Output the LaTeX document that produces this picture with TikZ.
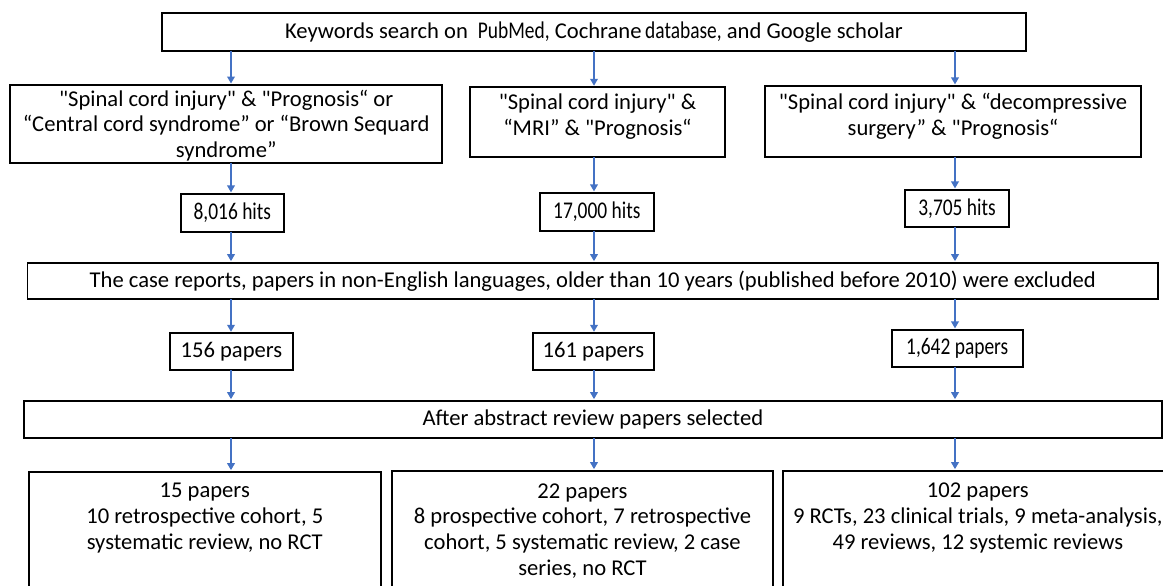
\documentclass[tikz,border=0pt]{standalone}
\usepackage{fontspec}
\usepackage{graphicx}
\setmainfont{Carlito}
\newcommand\cond[1]{\scalebox{0.81}[1]{\fontsize{24}{26}\selectfont #1}}
\newcommand\qq{\textquotedbl}
\usetikzlibrary{arrows.meta}
\definecolor{arrowblue}{RGB}{68,114,196}
\tikzset{
  box/.style={draw=black, line width=1.8pt, inner sep=0pt, outer sep=0pt, align=center},
  txt/.style={inner sep=0pt, align=center},
  arr/.style={draw=arrowblue, line width=1.9pt, -{Triangle[length=7pt,width=7.5pt]}, shorten >=1.5pt},
  every node/.style={font=\fontsize{22.6}{25.8}\selectfont}
}
\begin{document}
\begin{tikzpicture}[x=1pt,y=-1pt]
\path[use as bounding box, fill=white] (0,0) rectangle (1163,586);
\clip (0,0) rectangle (1163,586);
% column coordinates
\coordinate (cL) at (231,0);
\coordinate (cM) at (594,0);
\coordinate (cR) at (955,0);
% top
\node[box, minimum width=864.5pt, minimum height=37.5pt] (top) at (594,32) {Keywords search on\hspace{10pt}\cond{PubMed,} Cochrane\hspace{-1.5pt} \cond{database,} and Google scholar};
% row 2
\node[box, minimum width=431.7pt, minimum height=77.7pt] (L2) at (226.2,123.9) {};
\node[box, minimum width=255pt, minimum height=70pt] (M2) at (597.5,122.3) {};
\node[box, minimum width=376pt, minimum height=70.7pt] (R2) at (953,121.3) {};
\node[txt] (L2t) at (226.2,125.5) {\qq Spinal cord injury\qq{} \& \qq Prognosis“ or\\“Central cord syndrome” or “Brown Sequard\\syndrome”};
\node[txt] (M2t) at (597.5,116.5) {\qq Spinal cord injury\qq{} \&\\“MRI” \& \qq Prognosis“};
\node[txt] (R2t) at (953,116.5) {\qq Spinal cord injury\qq{} \& “decompressive\\surgery” \& \qq Prognosis“};
% hits
\node[box, minimum width=103.4pt, minimum height=37.7pt] (H1) at (232.3,212.8) {\cond{8,016 hits}};
\node[box, minimum width=114.4pt, minimum height=37.7pt] (H2) at (596.8,211.8) {\cond{17,000 hits}};
\node[box, minimum width=104pt, minimum height=36.7pt] (H3) at (957,208.3) {\cond{3,705 hits}};
% exclusion
\node[box, minimum width=1130.5pt, minimum height=36.6pt] (E) at (592.75,281) {The case reports, papers in non-English languages, older than 10 years (published before 2010) were excluded};
% papers
\node[box, minimum width=122.8pt, minimum height=36.7pt] (P1) at (231.4,351.7) {156 papers};
\node[box, minimum width=121.6pt, minimum height=36.7pt] (P2) at (593.5,351.7) {161 papers};
\node[box, minimum width=131pt, minimum height=36.7pt] (P3) at (957.2,348.3) {\cond{1,642 papers}};
% abstract
\node[box, minimum width=1138.3pt, minimum height=37.6pt] (A) at (592.85,419.5) {After abstract review papers selected};
% bottom
\node[box, minimum width=352pt, minimum height=168.3pt] (B1) at (204.75,555.85) {};
\node[box, minimum width=380.3pt, minimum height=169.3pt] (B2) at (582.45,555.35) {};
\node[box, minimum width=390.4pt, minimum height=169.3pt] (B3) at (977.8,555.35) {};
\node[txt] (B1t) at (204.75,518) {15 papers\\10 retrospective cohort, 5\\systematic review, no RCT};
\node[txt] (B2t) at (582.45,531) {22 papers\\8 prospective cohort, 7 retrospective\\cohort, 5 systematic review, 2 case\\series, no RCT};
\node[txt] (B3t) at (977.8,518) {102 papers\\9 RCTs, 23 clinical trials, 9 meta-analysis,\\49 reviews, 12 systemic reviews};
% arrows
\draw[arr] (top.south -| cL) -- (L2.north -| cL);
\draw[arr] (top.south -| cM) -- (M2.north -| cM);
\draw[arr] (top.south -| cR) -- (R2.north -| cR);
\draw[arr] (L2.south -| cL) -- (H1.north -| cL);
\draw[arr] (M2.south -| cM) -- (H2.north -| cM);
\draw[arr] (R2.south -| cR) -- (H3.north -| cR);
\draw[arr] (H1.south -| cL) -- (E.north -| cL);
\draw[arr] (H2.south -| cM) -- (E.north -| cM);
\draw[arr] (H3.south -| cR) -- (E.north -| cR);
\draw[arr] (E.south -| cL) -- (P1.north -| cL);
\draw[arr] (E.south -| cM) -- (P2.north -| cM);
\draw[arr] (E.south -| cR) -- (P3.north -| cR);
\draw[arr] (P1.south -| cL) -- (A.north -| cL);
\draw[arr] (P2.south -| cM) -- (A.north -| cM);
\draw[arr] (P3.south -| cR) -- (A.north -| cR);
\draw[arr] (A.south -| cL) -- (B1.north -| cL);
\draw[arr] (A.south -| cM) -- (B2.north -| cM);
\draw[arr] (A.south -| cR) -- (B3.north -| cR);
\end{tikzpicture}
\end{document}
